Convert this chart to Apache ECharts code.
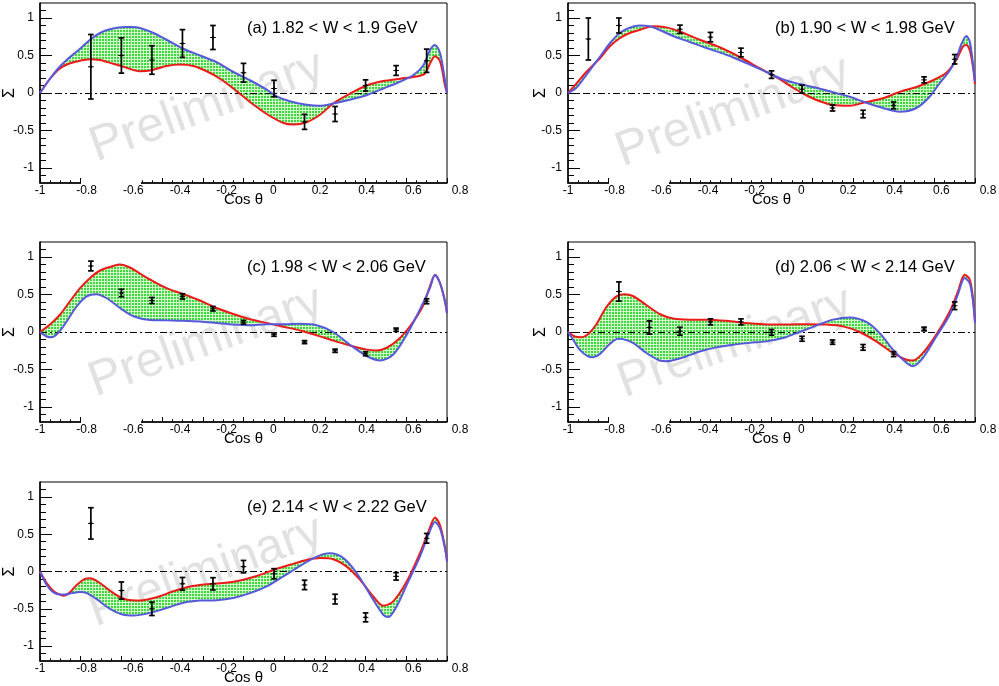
<!DOCTYPE html>
<html><head><meta charset="utf-8">
<script src="https://cdn.jsdelivr.net/npm/echarts@6/dist/echarts.min.js"></script>
<style>html,body{margin:0;padding:0;background:#fff}#c{width:999px;height:686px}</style>
</head><body><div id="c"></div>
<script>
// ---------- data ----------
const binX  = [-0.75,-0.6,-0.45,-0.3,-0.15,0,0.15,0.3,0.45,0.6,0.75,0.9];
const binXB = [-0.9,-0.75,-0.45,-0.3,-0.15,0,0.15,0.3,0.45,0.6,0.75,0.9];

const sigmaA = [0.35,0.50,0.44,0.66,0.74,0.27,0.06,-0.385,-0.28,0.10,0.30,0.43];
const errA   = [0.43,0.235,0.19,0.185,0.16,0.125,0.11,0.10,0.10,0.075,0.065,0.155];
const sigmaB = [0.72,0.90,0.85,0.745,0.54,0.245,0.05,-0.20,-0.28,-0.165,0.175,0.45];
const errB   = [0.28,0.10,0.055,0.063,0.058,0.05,0.053,0.04,0.05,0.045,0.04,0.063];
const sigmaC = [0.88,0.52,0.42,0.475,0.31,0.13,-0.035,-0.135,-0.25,-0.29,0.03,0.41];
const errC   = [0.065,0.05,0.04,0.035,0.03,0.025,0.022,0.02,0.022,0.027,0.022,0.033];
const sigmaD = [0.54,0.06,0.01,0.135,0.135,-0.005,-0.09,-0.135,-0.205,-0.295,0.04,0.35];
const errD   = [0.128,0.088,0.053,0.04,0.04,0.038,0.033,0.029,0.038,0.033,0.025,0.051];
const sigmaE = [0.645,-0.255,-0.50,-0.165,-0.165,0.065,-0.03,-0.18,-0.37,-0.615,-0.065,0.445];
const errE   = [0.21,0.115,0.09,0.085,0.082,0.083,0.068,0.063,0.065,0.06,0.05,0.065];

const redA = [[-1,0],[-0.951,0.19],[-0.910,0.31],[-0.869,0.38],[-0.820,0.42],[-0.754,0.45],[-0.705,0.44],[-0.640,0.39],[-0.590,0.35],[-0.509,0.29],[-0.459,0.30],[-0.378,0.36],[-0.312,0.38],[-0.247,0.36],[-0.181,0.29],[-0.115,0.19],[-0.050,0.06],[0.032,-0.12],[0.114,-0.28],[0.196,-0.40],[0.245,-0.42],[0.310,-0.39],[0.376,-0.29],[0.441,-0.14],[0.523,-0.01],[0.605,0.10],[0.687,0.16],[0.769,0.19],[0.851,0.22],[0.892,0.26],[0.916,0.39],[0.941,0.49],[0.966,0.42],[0.990,0.10],[1,0]];
const blueA = [[-1,0],[-0.951,0.19],[-0.910,0.33],[-0.869,0.44],[-0.803,0.59],[-0.754,0.71],[-0.705,0.80],[-0.656,0.85],[-0.582,0.88],[-0.541,0.88],[-0.459,0.82],[-0.378,0.71],[-0.296,0.59],[-0.214,0.50],[-0.132,0.41],[-0.050,0.28],[0.032,0.17],[0.114,0.045],[0.163,-0.045],[0.228,-0.11],[0.310,-0.156],[0.376,-0.17],[0.441,-0.14],[0.523,-0.09],[0.605,-0.03],[0.687,0.06],[0.769,0.15],[0.835,0.24],[0.884,0.37],[0.916,0.57],[0.941,0.64],[0.966,0.53],[0.990,0.17],[1,0]];

const redB = [[-1,0],[-0.959,0.125],[-0.910,0.28],[-0.844,0.46],[-0.795,0.62],[-0.746,0.73],[-0.697,0.80],[-0.648,0.84],[-0.582,0.89],[-0.517,0.875],[-0.451,0.82],[-0.353,0.71],[-0.255,0.61],[-0.156,0.48],[-0.058,0.33],[0.024,0.21],[0.106,0.07],[0.171,-0.03],[0.237,-0.11],[0.302,-0.16],[0.384,-0.17],[0.466,-0.12],[0.548,-0.07],[0.630,0.015],[0.712,0.08],[0.794,0.17],[0.859,0.27],[0.908,0.44],[0.941,0.62],[0.957,0.64],[0.974,0.57],[0.990,0.35],[1,0.12]];
const blueB = [[-1,0],[-0.959,0.07],[-0.910,0.24],[-0.844,0.48],[-0.795,0.66],[-0.746,0.80],[-0.697,0.87],[-0.648,0.90],[-0.599,0.89],[-0.550,0.84],[-0.484,0.76],[-0.402,0.68],[-0.320,0.60],[-0.222,0.51],[-0.124,0.40],[-0.025,0.28],[0.057,0.18],[0.138,0.12],[0.220,0.07],[0.302,0.01],[0.384,-0.05],[0.466,-0.13],[0.548,-0.20],[0.630,-0.25],[0.712,-0.20],[0.777,-0.05],[0.826,0.13],[0.876,0.30],[0.908,0.46],[0.933,0.65],[0.957,0.76],[0.974,0.69],[0.990,0.39],[1,0.15]];

const redC = [[-1,0],[-0.951,0.10],[-0.902,0.23],[-0.853,0.41],[-0.803,0.585],[-0.754,0.72],[-0.705,0.82],[-0.640,0.88],[-0.607,0.90],[-0.558,0.86],[-0.509,0.78],[-0.459,0.70],[-0.378,0.585],[-0.296,0.505],[-0.214,0.42],[-0.132,0.32],[-0.050,0.24],[0.032,0.17],[0.114,0.12],[0.196,0.07],[0.278,0.02],[0.360,-0.045],[0.441,-0.115],[0.523,-0.18],[0.605,-0.235],[0.654,-0.245],[0.704,-0.21],[0.769,-0.08],[0.835,0.14],[0.884,0.36],[0.916,0.61],[0.941,0.76],[0.966,0.65],[0.990,0.41],[1,0.25]];
const blueC = [[-1,0],[-0.967,-0.06],[-0.943,-0.07],[-0.910,-0.01],[-0.869,0.14],[-0.820,0.34],[-0.771,0.475],[-0.722,0.505],[-0.672,0.45],[-0.607,0.32],[-0.541,0.21],[-0.459,0.16],[-0.378,0.155],[-0.296,0.15],[-0.214,0.14],[-0.132,0.12],[-0.050,0.10],[0.032,0.09],[0.114,0.105],[0.196,0.105],[0.278,0.11],[0.360,0.09],[0.441,0.0],[0.523,-0.17],[0.605,-0.32],[0.671,-0.38],[0.736,-0.30],[0.802,-0.035],[0.867,0.30],[0.916,0.585],[0.941,0.76],[0.966,0.65],[0.990,0.41],[1,0.25]];

const redD = [[-1,0],[-0.967,-0.06],[-0.934,-0.07],[-0.902,-0.03],[-0.861,0.10],[-0.812,0.33],[-0.762,0.475],[-0.722,0.505],[-0.681,0.48],[-0.615,0.36],[-0.550,0.24],[-0.484,0.18],[-0.402,0.165],[-0.320,0.165],[-0.222,0.15],[-0.124,0.12],[-0.025,0.10],[0.073,0.10],[0.171,0.105],[0.269,0.10],[0.351,0.075],[0.433,0.0],[0.515,-0.125],[0.597,-0.28],[0.663,-0.37],[0.695,-0.38],[0.744,-0.28],[0.810,-0.035],[0.876,0.275],[0.916,0.54],[0.949,0.765],[0.974,0.70],[0.990,0.45],[1,0.14]];
const blueD = [[-1,0],[-0.975,-0.10],[-0.943,-0.235],[-0.902,-0.325],[-0.877,-0.335],[-0.844,-0.295],[-0.795,-0.16],[-0.754,-0.09],[-0.730,-0.095],[-0.681,-0.145],[-0.615,-0.28],[-0.550,-0.38],[-0.517,-0.39],[-0.435,-0.34],[-0.353,-0.26],[-0.271,-0.205],[-0.189,-0.17],[-0.107,-0.145],[-0.025,-0.125],[0.057,-0.08],[0.138,0.0],[0.220,0.085],[0.302,0.165],[0.384,0.195],[0.466,0.135],[0.532,-0.015],[0.597,-0.235],[0.663,-0.41],[0.695,-0.455],[0.744,-0.345],[0.810,-0.06],[0.876,0.23],[0.916,0.50],[0.949,0.72],[0.974,0.65],[0.990,0.41],[1,0.12]];

const redE = [[-1,0],[-0.967,-0.155],[-0.934,-0.26],[-0.902,-0.31],[-0.885,-0.325],[-0.853,-0.28],[-0.820,-0.18],[-0.779,-0.10],[-0.754,-0.09],[-0.705,-0.155],[-0.640,-0.29],[-0.574,-0.38],[-0.509,-0.39],[-0.427,-0.345],[-0.345,-0.265],[-0.263,-0.20],[-0.181,-0.17],[-0.099,-0.155],[-0.017,-0.12],[0.065,-0.06],[0.147,0.02],[0.228,0.09],[0.310,0.155],[0.376,0.18],[0.441,0.165],[0.507,0.065],[0.572,-0.11],[0.638,-0.335],[0.687,-0.46],[0.736,-0.40],[0.802,-0.135],[0.867,0.245],[0.908,0.53],[0.941,0.725],[0.966,0.62],[0.990,0.33],[1,0.155]];
const blueE = [[-1,0],[-0.967,-0.18],[-0.934,-0.28],[-0.902,-0.31],[-0.877,-0.31],[-0.844,-0.29],[-0.803,-0.275],[-0.771,-0.29],[-0.722,-0.37],[-0.656,-0.50],[-0.590,-0.58],[-0.541,-0.59],[-0.459,-0.555],[-0.378,-0.49],[-0.296,-0.42],[-0.214,-0.39],[-0.132,-0.385],[-0.050,-0.355],[0.032,-0.29],[0.114,-0.20],[0.196,-0.065],[0.278,0.075],[0.360,0.20],[0.425,0.245],[0.491,0.18],[0.556,-0.02],[0.622,-0.31],[0.687,-0.58],[0.712,-0.61],[0.753,-0.465],[0.802,-0.18],[0.867,0.20],[0.908,0.49],[0.941,0.665],[0.966,0.575],[0.990,0.31],[1,0.13]];

const titles = ['(a) 1.82 < W < 1.9 GeV','(b) 1.90 < W < 1.98 GeV','(c) 1.98 < W < 2.06 GeV','(d) 2.06 < W < 2.14 GeV','(e) 2.14 < W < 2.22 GeV'];
const xLabelValues = [-1,-0.8,-0.6,-0.4,-0.2,0,0.2,0.4,0.6,0.8];
const yMajorTicks  = [-1,-0.5,0,0.5,1];
const yMinorTicks  = [-1.1,-0.9,-0.8,-0.7,-0.6,-0.4,-0.3,-0.2,-0.1,0.1,0.2,0.3,0.4,0.6,0.7,0.8,0.9,1.1];
const watermark = 'Preliminary';

// ---------- layout / style ----------
const FONT = '"Liberation Sans", Arial, Helvetica, sans-serif';
const RED = '#ee1a1a', BLUE = '#5858dc';
const panels = [
  {red:redA, blue:blueA, x:binX,  y:sigmaA, e:errA, left:40,  top:3,   h:180, wm:[207,107], ng:22, gap:true},
  {red:redB, blue:blueB, x:binXB, y:sigmaB, e:errB, left:568, top:3,   h:180, wm:[733,112], ng:19, gap:true},
  {red:redC, blue:blueC, x:binX,  y:sigmaC, e:errC, left:40,  top:242, h:180, wm:[206,342], ng:22, gap:true},
  {red:redD, blue:blueD, x:binX,  y:sigmaD, e:errD, left:568, top:242, h:180, wm:[735,343], ng:19, gap:true},
  {red:redE, blue:blueE, x:binX,  y:sigmaE, e:errE, left:40,  top:482, h:179, wm:[206,572], ng:22, gap:false}
];
const W = 407;

const pc = document.createElement('canvas'); pc.width = 3; pc.height = 3;
const pg = pc.getContext('2d');
pg.fillStyle = '#d4f7ce'; pg.fillRect(0,0,3,3);
pg.fillStyle = '#3cd83c'; pg.fillRect(0,0,2,2);
const pattern = {image: pc, repeat: 'repeat'};

const grid = [], xAxis = [], yAxis = [], series = [], graphic = [];

panels.forEach((p, i) => {
  grid.push({left:p.left, top:p.top, width:W, height:p.h, show:true, borderColor:'#000', borderWidth:1, backgroundColor:'transparent', outerBoundsMode:'none', containLabel:false});
  grid.push({left:p.left, top:p.top, width:420, height:p.h, show:false, outerBoundsMode:'none', containLabel:false});
  const gF = 2*i, gL = 2*i+1;
  // frame x axis (ticks)
  xAxis.push({gridIndex:gF, type:'value', min:-1, max:1, interval:0.2, position:'bottom',
    axisLine:{show:true, onZero:false, lineStyle:{color:'#000', width:1.5}},
    axisTick:{show:true, inside:true, length:5, lineStyle:{color:'#000', width:1}},
    minorTick:{show:true, splitNumber:4, length:2.7, lineStyle:{color:'#000', width:1}},
    axisLabel:{show:false}, splitLine:{show:false}, minorSplitLine:{show:false},
    name:'Cos θ', nameLocation:'middle', nameGap:9, nameMoveOverlap:false,
    nameTextStyle:{color:'#000', fontSize:15, fontFamily:FONT}});
  // label x axis
  xAxis.push({gridIndex:gL, type:'value', min:-1, max:0.8, position:'bottom',
    axisLine:{show:false, onZero:false}, axisTick:{show:false}, splitLine:{show:false},
    axisLabel:{show:true, customValues:xLabelValues, margin:2, color:'#000', fontSize:12, fontFamily:FONT, hideOverlap:false}});
  // y axes
  yAxis.push({gridIndex:gF, type:'value', min:-1.2, max:1.2, position:'left',
    axisLine:{show:true, onZero:false, lineStyle:{color:'#000', width:1.5}},
    axisTick:{show:true, inside:true, length:12, customValues:yMajorTicks, lineStyle:{color:'#000', width:1}},
    axisLabel:{show:true, customValues:yMajorTicks, margin:6, color:'#000', fontSize:12, fontFamily:FONT},
    splitLine:{show:false},
    name:'Σ', nameLocation:'middle', nameRotate:90, nameGap:p.ng, nameMoveOverlap:false,
    nameTextStyle:{color:'#000', fontSize:16, fontFamily:FONT}});
  yAxis.push({gridIndex:gF, type:'value', min:-1.2, max:1.2, position:'left', offset:0,
    axisLine:{show:false, onZero:false}, axisLabel:{show:false}, splitLine:{show:false},
    axisTick:{show:true, inside:true, length:6, customValues:yMinorTicks, lineStyle:{color:'#000', width:1}}});
  yAxis.push({gridIndex:gL, type:'value', min:-1.2, max:1.2, show:false, axisLine:{onZero:false}});

  const xi = 2*i, yi = 3*i;
  const red = p.red, blue = p.blue;
  series.push({type:'custom', xAxisIndex:xi, yAxisIndex:yi, clip:true, silent:true, z:2,
    data:[[0,0]],
    renderItem:(params, api) => {
      const pts = red.map(q => api.coord(q));
      for (let k = blue.length - 1; k >= 0; k--) pts.push(api.coord(blue[k]));
      return {type:'polygon', shape:{points:pts, smooth:0.3}, style:{fill:pattern, stroke:null}};
    }});
  series.push({type:'line', xAxisIndex:xi, yAxisIndex:yi, data:red, smooth:0.3, showSymbol:false, symbol:'none', clip:true, z:4,
    lineStyle:{color:RED, width:2},
    markLine:{silent:true, symbol:['none','none'], label:{show:false}, animation:false,
      lineStyle:{color:'#000', width:1, type:[7,3,2,3]}, data:[{yAxis:0}], z:3}});
  series.push({type:'line', xAxisIndex:xi, yAxisIndex:yi, data:blue, smooth:0.3, showSymbol:false, symbol:'none', clip:true, z:5,
    lineStyle:{color:BLUE, width:2}});
  series.push({type:'custom', xAxisIndex:xi, yAxisIndex:yi, z:6, silent:true,
    data:p.x.map((x, k) => [x, p.y[k], p.e[k]]),
    renderItem:(params, api) => {
      const x = api.value(0), y = api.value(1), e = api.value(2);
      const c = api.coord([x, y]), t = api.coord([x, y + e]), b = api.coord([x, y - e]);
      const w = 2.8, st = {stroke:'#000', lineWidth:1.7};
      return {type:'group', children:[
        {type:'line', shape:{x1:c[0], y1:t[1], x2:c[0], y2:b[1]}, style:st},
        {type:'line', shape:{x1:c[0]-w, y1:t[1], x2:c[0]+w, y2:t[1]}, style:st},
        {type:'line', shape:{x1:c[0]-w, y1:b[1], x2:c[0]+w, y2:b[1]}, style:st},
        {type:'line', shape:{x1:c[0]-w, y1:c[1], x2:c[0]+w, y2:c[1]}, style:{stroke:'#000', lineWidth:1}},
        {type:'circle', shape:{cx:c[0], cy:c[1], r:1.3}, style:{fill:'#000'}}
      ]};
    }});

  graphic.push({type:'text', x:p.wm[0], y:p.wm[1], rotation:20*Math.PI/180, z:0, zlevel:0, silent:true,
    style:{text:watermark, fill:'#e1e1e1', font:'49px ' + FONT, align:'center', verticalAlign:'middle'}});
  graphic.push({type:'text', x:p.left + 207, y:p.top + 25, z:100, silent:true,
    style:{text:titles[i], fill:'#000', font:'16.5px ' + FONT, align:'left', verticalAlign:'middle'}});
  if (p.gap) {
    graphic.push({type:'rect', z:100, silent:true, shape:{x:p.left + 41, y:p.top + p.h - 6, width:60, height:8}, style:{fill:'#fff'}});
  }
});

const chart = echarts.init(document.getElementById('c'), null, {renderer:'canvas'});
chart.setOption({animation:false, backgroundColor:'#fff', grid, xAxis, yAxis, series, graphic});
</script></body></html>
